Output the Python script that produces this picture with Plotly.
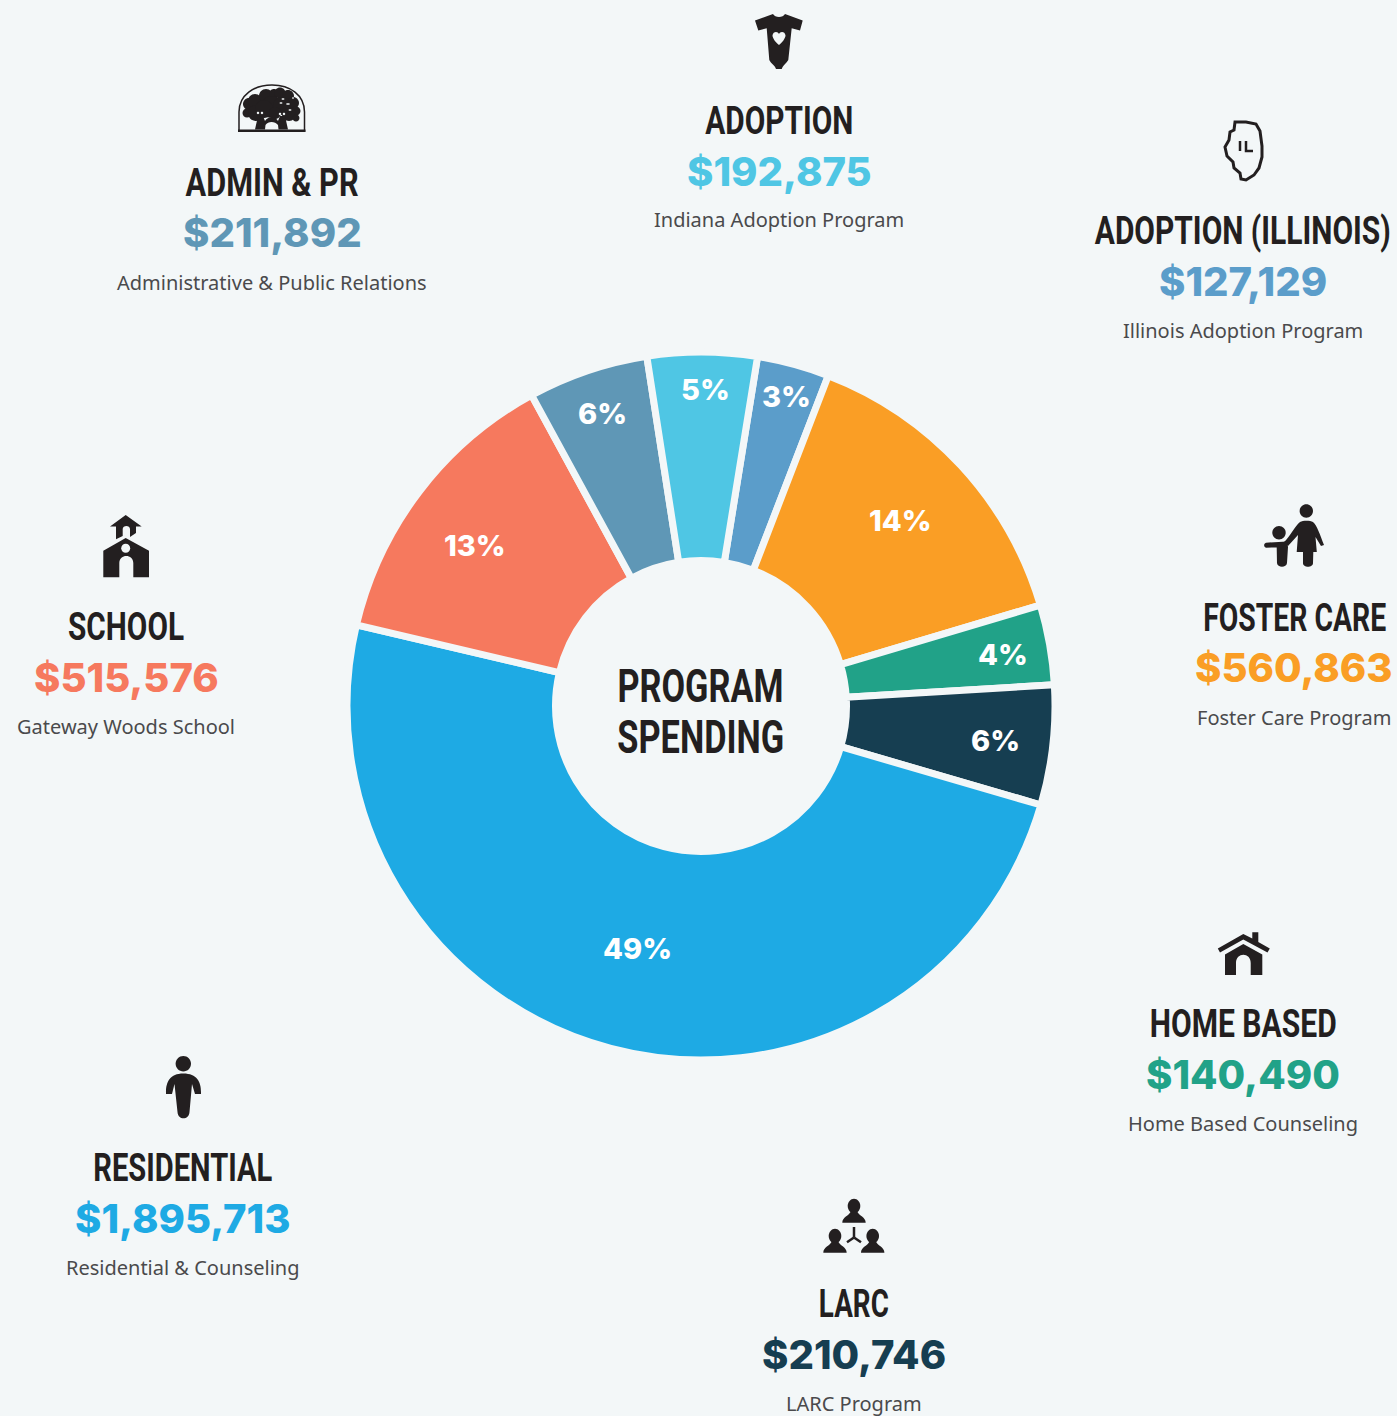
import plotly.graph_objects as go
import json

W, H = 1397, 1416
BG = "#f3f7f8"
INK = "#231f20"

slice_names = ["Adoption (Illinois)", "Foster Care", "Home Based", "LARC", "Residential", "School", "Admin & PR", "Adoption"]
slice_values = [127129, 560863, 140490, 210746, 1895713, 515576, 211892, 192875]
slice_colors = ["#5b9dca", "#fa9e25", "#21a288", "#163e51", "#1eaae4", "#f6795e", "#5f97b6", "#4fc6e4"]
slice_percents = ["3%", "14%", "4%", "6%", "49%", "13%", "6%", "5%"]

titles = ["ADOPTION (ILLINOIS)", "FOSTER CARE", "HOME BASED", "LARC", "RESIDENTIAL", "SCHOOL", "ADMIN & PR", "ADOPTION"]
amounts = ["$127,129", "$560,863", "$140,490", "$210,746", "$1,895,713", "$515,576", "$211,892", "$192,875"]
subtitles = ["Illinois Adoption Program", "Foster Care Program", "Home Based Counseling", "LARC Program",
             "Residential & Counseling", "Gateway Woods School", "Administrative & Public Relations", "Indiana Adoption Program"]
center_lines = ["PROGRAM", "SPENDING"]

# layout, in page pixels
cx, cy, R = 701, 706, 354
label_xy = [(1243, 231), (1294, 618), (1243, 1024), (854, 1304), (183, 1168), (126, 627), (272, 183), (779, 121)]
pct_xy = [(786, 397), (900, 520), (1003, 654), (995, 740), (637, 948), (475, 545), (602, 413), (705, 390)]
heading_widths = {"ADOPTION (ILLINOIS)": 296, "FOSTER CARE": 183, "HOME BASED": 187, "LARC": 70, "RESIDENTIAL": 179,
                  "SCHOOL": 116, "ADMIN & PR": 173, "ADOPTION": 148, "PROGRAM": 166, "SPENDING": 167}


def px(x):
    return x / W


def py(y):
    return 1 - y / H


fig = go.Figure(go.Pie(
    labels=slice_names, values=slice_values, sort=False, direction="clockwise", rotation=9.2,
    hole=0.411, textinfo="none", hoverinfo="label+value",
    marker=dict(colors=slice_colors, line=dict(color=BG, width=7)),
    domain=dict(x=[px(cx - R), px(cx + R)], y=[py(cy + R), py(cy - R)]),
    showlegend=False,
))

ann = []


def text(x, y, s, size, color, family, weight=400):
    ann.append(dict(x=px(x), y=py(y), xref="paper", yref="paper", text=s, showarrow=False,
                    xanchor="center", yanchor="middle", align="center",
                    font=dict(size=size, color=color, family=family, weight=weight)))


for (x, y), t, a, s, c in zip(label_xy, titles, amounts, subtitles, slice_colors):
    text(x, y, t, 38, INK, "Roboto", 700)
    text(x, y + 50, a, 40, c, "Inter", 800)
    text(x, y + 99, s, 20, "#4a4a4c", "Noto Sans", 400)

for (x, y), p in zip(pct_xy, slice_percents):
    text(x, y, p, 29, "#ffffff", "Inter", 800)

text(701, 686, center_lines[0], 46, INK, "Roboto", 700)
text(701, 737, center_lines[1], 46, INK, "Roboto", 700)

shapes = []


def path(cmds, fill=INK, line=None, lw=0):
    """cmds: list of (letter, x, y, x, y ...) in page pixels"""
    out = []
    for c in cmds:
        nums = c[1:]
        pts = [f"{px(nums[i]):.5f},{py(nums[i + 1]):.5f}" for i in range(0, len(nums), 2)]
        out.append(c[0] + " ".join(pts))
    d = " ".join(out)
    shapes.append(dict(type="path", xref="paper", yref="paper", path=d, layer="above",
                       fillcolor=fill if fill else "rgba(0,0,0,0)",
                       line=dict(color=line if line else "rgba(0,0,0,0)", width=lw)))


def poly(points, fill=INK, close=True, line=None, lw=0):
    cmds = [("M", *points[0])] + [("L", *p) for p in points[1:]]
    if close:
        cmds.append(("Z",))
    path(cmds, fill, line, lw)


K = 0.5523


def circle_cmds(x, y, rx, ry=None):
    ry = ry or rx
    return [("M", x - rx, y),
            ("C", x - rx, y - K * ry, x - K * rx, y - ry, x, y - ry),
            ("C", x + K * rx, y - ry, x + rx, y - K * ry, x + rx, y),
            ("C", x + rx, y + K * ry, x + K * rx, y + ry, x, y + ry),
            ("C", x - K * rx, y + ry, x - rx, y + K * ry, x - rx, y), ("Z",)]


def circle(x, y, rx, ry=None, fill=INK):
    path(circle_cmds(x, y, rx, ry), fill)


# onesie (adoption)
path([("M", 773, 14), ("C", 775, 18, 783, 18, 785, 14), ("L", 802.7, 20.5), ("L", 800, 30.5), ("L", 791.7, 28.3),
      ("L", 788.3, 60), ("C", 786, 64, 783, 65, 781.7, 69), ("L", 776, 69), ("C", 775, 65, 771, 64, 769.3, 60),
      ("L", 766.7, 28.3), ("L", 758.3, 30.5), ("L", 755, 20.5), ("Z",)])
path([("M", 779, 45), ("C", 774, 41, 772.5, 37, 772.5, 35.5), ("C", 773, 31, 778, 31, 779, 34),
      ("C", 780, 31, 785, 31, 785.5, 35.5), ("C", 785.5, 37, 784, 41, 779, 45), ("Z",)], fill=BG)

# Illinois outline
poly([(1235, 122), (1246, 122), (1256, 124), (1260, 131), (1262, 146), (1262, 157), (1259, 168), (1254, 175),
      (1246, 180), (1241, 179), (1240, 173), (1234, 168), (1233, 162), (1227, 156), (1225, 147), (1229, 140),
      (1230, 132), (1234, 130)], fill=None, line=INK, lw=3)
poly([(1240, 141), (1240, 151)], fill=None, close=False, line=INK, lw=2.5)
poly([(1246, 141), (1246, 151), (1253, 151)], fill=None, close=False, line=INK, lw=2.5)

# oak tree emblem (admin)
path([("M", 239, 131), ("L", 239, 112), ("C", 239, 95, 254, 85, 272, 85), ("C", 290, 85, 304.5, 95, 304.5, 112),
      ("L", 304.5, 131), ("Z",)], fill=None, line=INK, lw=1.5)
poly([(238, 129.5), (305.5, 129.5), (305.5, 132), (238, 132)])
for c in [(249, 104, 6), (247, 113, 4.5), (255, 101, 7), (256, 113, 8), (266, 96, 7), (274, 94, 5), (280, 93, 5.5),
          (288, 96, 6), (293, 103, 6), (296, 111, 4.5), (289, 114, 7), (296, 118, 3.5), (272, 107, 11),
          (282, 106, 9), (264, 109, 9), (275, 113, 6)]:
    circle(*c)
path([("M", 255, 129.5), ("L", 258, 116), ("L", 263, 116), ("L", 265, 121), ("C", 268, 116, 275, 116, 278, 121),
      ("L", 280, 116), ("L", 285, 116), ("L", 288, 129.5), ("L", 278.5, 129.5), ("L", 278, 125),
      ("C", 275, 121, 268, 121, 265.5, 125), ("L", 265, 129.5), ("Z",)])
for c in [(283, 99, 1.5, 0.8), (288, 104, 2, 0.8), (281, 103, 1.5, 0.8), (290, 110, 1.5, 0.8), (258, 113, 1.2), (262, 113, 1.2),
          (280, 114, 1.2), (284, 114, 1.2), (293, 98, 1, 0.8)]:
    circle(*c, fill=BG)

# schoolhouse
path([("M", 125.7, 515), ("L", 141.7, 526.5), ("L", 136, 526.5), ("L", 136, 533), ("L", 130, 537), ("L", 130, 529),
      ("C", 130, 525, 122.7, 525, 122.7, 529), ("L", 122.7, 536), ("L", 116, 539.3), ("L", 116, 526.5),
      ("L", 110, 526.5), ("Z",)])
path([("M", 125.7, 538), ("L", 149, 550.7), ("L", 149, 577.3), ("L", 133.3, 577.3), ("L", 133.3, 563),
      ("C", 133.3, 553.5, 119.3, 553.5, 119.3, 563), ("L", 119.3, 577.3), ("L", 103.3, 577.3), ("L", 103.3, 550.7), ("Z",)])
circle(125.7, 548.3, 4.5, fill=BG)

# foster care (adult and child)
circle(1306.3, 511, 6.7)
path([("M", 1300, 522), ("C", 1303, 520.5, 1310, 520.5, 1313, 522), ("C", 1317, 525, 1320, 535, 1324, 545),
      ("L", 1321, 546), ("L", 1315.5, 537), ("L", 1316.8, 552), ("L", 1313.3, 552), ("L", 1313, 563),
      ("C", 1313, 568, 1303, 568, 1303, 563), ("L", 1303, 552), ("L", 1296.7, 552), ("L", 1298, 535),
      ("L", 1288, 546), ("L", 1284, 542), ("C", 1289, 538, 1295, 526, 1300, 522), ("Z",)])
circle(1279, 532.7, 6.7)
path([("M", 1266, 542.7), ("L", 1287, 541.5), ("L", 1288, 547), ("L", 1287, 563), ("C", 1286.5, 568, 1277.5, 568, 1277, 563),
      ("L", 1276.7, 547.5), ("L", 1266, 547.7), ("C", 1263.5, 547, 1263.5, 543.5, 1266, 542.7), ("Z",)])

# house
poly([(1243.3, 934), (1252.3, 938.5), (1252.3, 932.3), (1258.3, 932.3), (1258.3, 942), (1269.8, 948.5), (1267.5, 952.5),
      (1243.3, 939.5), (1220, 952.5), (1217.8, 948.5)])
path([("M", 1243.3, 944), ("L", 1262.3, 954.5), ("L", 1262.3, 975), ("L", 1250.7, 975), ("L", 1250.7, 963),
      ("C", 1250.7, 952, 1236, 952, 1236, 963), ("L", 1236, 975), ("L", 1225, 975), ("L", 1225, 954.5), ("Z",)])

# residential figure
circle(183.3, 1063.7, 7.7)
path([("M", 183.3, 1073.5), ("C", 170, 1073.5, 166, 1082, 166, 1092), ("L", 166, 1094), ("L", 172, 1094),
      ("L", 174.5, 1084), ("L", 177.5, 1112), ("C", 178, 1120.5, 189, 1120.5, 189.5, 1112), ("L", 192, 1084),
      ("L", 195, 1094), ("L", 201, 1094), ("L", 201, 1092), ("C", 201, 1082, 197, 1073.5, 183.3, 1073.5), ("Z",)])


# LARC people
def person(x, y):
    path(circle_cmds(x, y, 6.3, 7.3))
    path([("M", x - 11.7, y + 16.7), ("C", x - 11.7, y + 11, x - 5, y + 10, x - 3, y + 5), ("L", x + 3, y + 5),
          ("C", x + 5, y + 10, x + 11.7, y + 11, x + 11.7, y + 16.7), ("Z",)])


person(854, 1206)
person(835, 1236)
person(872.7, 1236)
poly([(854, 1227), (854, 1237.5)], fill=None, close=False, line=INK, lw=2.5)
poly([(854, 1237.5), (847, 1242.3)], fill=None, close=False, line=INK, lw=2.5)
poly([(854, 1237.5), (861, 1242.3)], fill=None, close=False, line=INK, lw=2.5)

fig.update_layout(width=W, height=H, margin=dict(l=0, r=0, t=0, b=0), paper_bgcolor=BG, plot_bgcolor=BG,
                  annotations=ann, shapes=shapes)

# page without the default body margin; the heading labels drawn in a narrow cut
post = """
document.body.style.margin = '0';
document.documentElement.style.background = '%s';
(function () {
  var widths = %s;
  function squeeze() {
    document.querySelectorAll('.annotation-text').forEach(function (t) {
      var w = widths[t.textContent];
      if (w && !t.getAttribute('textLength')) {
        t.setAttribute('lengthAdjust', 'spacingAndGlyphs');
        t.setAttribute('textLength', w);
      }
    });
  }
  squeeze();
  setTimeout(squeeze, 50);
  setTimeout(squeeze, 300);
})();
""" % (BG, json.dumps(heading_widths))

fig.write_html("out.html", config={"displayModeBar": False}, post_script=post)
